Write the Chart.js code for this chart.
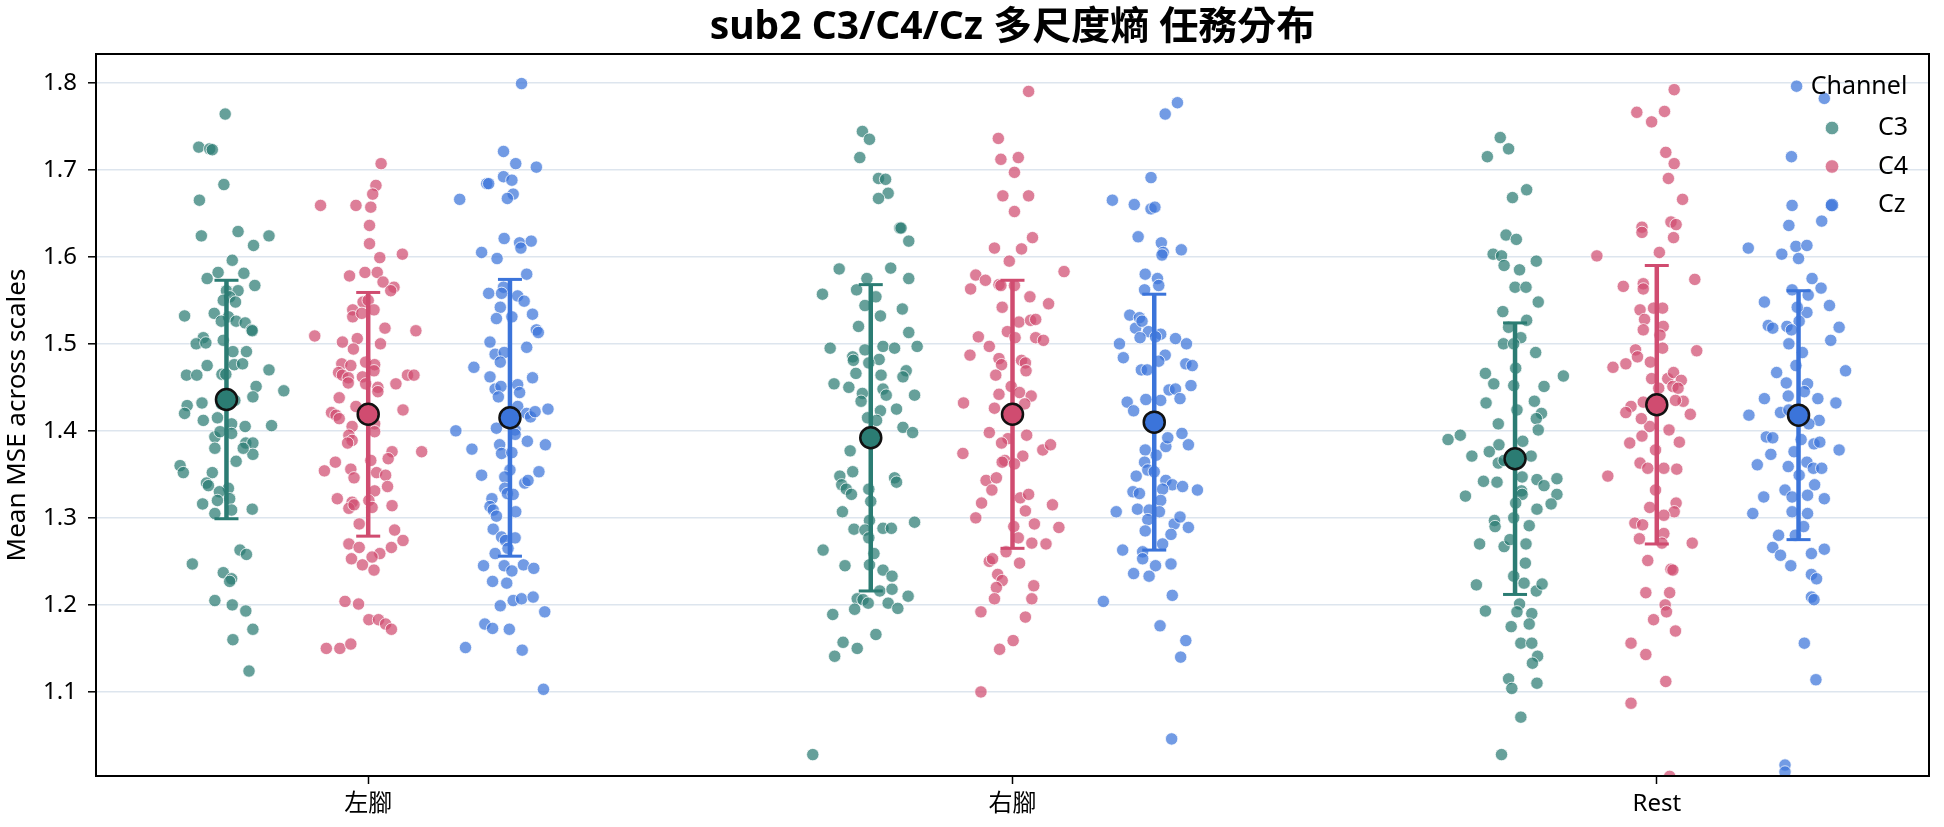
<!DOCTYPE html>
<html>
<head>
<meta charset="utf-8">
<script src="https://cdn.jsdelivr.net/npm/chart.js@4"></script>
<style>
  html, body { margin: 0; padding: 0; background: #fff; }
</style>
</head>
<body>
<canvas id="chart" width="1944" height="827"></canvas>
<script>
const categories = ["左腳", "右腳", "Rest"];
const channels = ["C3", "C4", "Cz"];
const yTicks = [1.1, 1.2, 1.3, 1.4, 1.5, 1.6, 1.7, 1.8];

// per-trial values, with their horizontal jitter (category units)
const left_C3_val = [1.764,1.726,1.724,1.723,1.683,1.665,1.624,1.629,1.624,1.613,1.596,1.582,1.581,1.575,1.567,1.561,1.561,1.554,1.550,1.548,1.532,1.535,1.531,1.526,1.526,1.524,1.516,1.515,1.507,1.500,1.501,1.504,1.491,1.491,1.475,1.476,1.477,1.470,1.464,1.464,1.465,1.465,1.451,1.439,1.446,1.435,1.429,1.432,1.420,1.431,1.412,1.415,1.408,1.405,1.406,1.393,1.397,1.399,1.386,1.386,1.373,1.380,1.380,1.365,1.360,1.352,1.352,1.340,1.337,1.334,1.330,1.316,1.320,1.322,1.309,1.305,1.310,1.263,1.258,1.247,1.237,1.230,1.227,1.205,1.200,1.193,1.172,1.160,1.124];
const left_C3_jit = [-0.002,-0.043,-0.026,-0.022,-0.004,-0.042,-0.039,0.018,0.066,0.042,0.009,-0.013,0.027,-0.030,0.044,0,0.018,0.005,-0.005,0.014,-0.065,-0.019,0.003,-0.008,0.015,0.029,0.039,0.040,-0.036,-0.047,-0.032,-0.005,0.010,0.031,-0.030,0.012,0.025,0.066,-0.062,-0.046,-0.007,-0.001,0.046,0.041,0.089,0.013,-0.061,-0.038,-0.065,-0.008,-0.036,-0.014,0.008,0.029,0.070,-0.018,0.008,-0.010,0.030,0.041,0.041,0.026,-0.018,0.015,-0.072,-0.067,-0.022,-0.031,-0.028,0.003,-0.011,-0.037,-0.014,0.005,0.008,-0.018,0.040,0.021,0.031,-0.053,-0.005,0.008,0.005,-0.018,0.009,0.030,0.041,0.010,0.035];

const left_C4_val = [1.707,1.682,1.672,1.659,1.659,1.657,1.636,1.615,1.599,1.603,1.578,1.582,1.582,1.571,1.565,1.561,1.548,1.550,1.539,1.539,1.531,1.535,1.518,1.515,1.509,1.502,1.506,1.500,1.494,1.477,1.475,1.479,1.476,1.469,1.467,1.464,1.461,1.462,1.464,1.464,1.455,1.454,1.450,1.445,1.454,1.438,1.428,1.424,1.421,1.418,1.414,1.405,1.408,1.399,1.395,1.389,1.386,1.376,1.376,1.368,1.366,1.364,1.354,1.356,1.346,1.352,1.349,1.336,1.331,1.322,1.318,1.311,1.315,1.320,1.312,1.314,1.293,1.286,1.274,1.270,1.266,1.266,1.253,1.246,1.240,1.259,1.255,1.204,1.201,1.183,1.183,1.178,1.172,1.150,1.150,1.155];
const left_C4_jit = [0.020,0.012,0.007,-0.074,-0.019,0.004,0.002,0.002,0.018,0.053,-0.029,-0.005,0.014,0.023,0.040,0.035,-0.008,0,-0.024,0.009,-0.024,-0.010,0.026,0.074,-0.083,-0.040,-0.017,0.019,-0.023,-0.041,-0.027,-0.004,0.010,0.009,-0.046,-0.040,-0.031,-0.009,0.061,0.071,-0.031,-0.004,0.015,0.015,0.043,-0.045,-0.019,0.054,-0.057,-0.050,-0.045,-0.025,0.010,0.010,-0.030,-0.025,-0.032,0.037,0.083,0.031,0.004,-0.051,-0.068,-0.027,-0.022,0.013,0.027,0.030,0.010,-0.048,-0.025,-0.030,-0.022,0.001,0.006,0.037,-0.014,0.041,0.054,-0.030,-0.014,0.036,-0.026,-0.009,0.009,0.018,0.006,-0.036,-0.015,0.001,0.016,0.027,0.036,-0.065,-0.044,-0.027];

const left_Cz_val = [1.799,1.721,1.707,1.703,1.692,1.688,1.684,1.684,1.666,1.672,1.667,1.621,1.616,1.618,1.610,1.605,1.598,1.580,1.565,1.558,1.558,1.555,1.549,1.542,1.529,1.531,1.534,1.516,1.513,1.502,1.496,1.488,1.490,1.479,1.473,1.462,1.461,1.453,1.448,1.451,1.439,1.444,1.428,1.420,1.416,1.422,1.425,1.400,1.403,1.401,1.396,1.379,1.384,1.374,1.375,1.388,1.384,1.349,1.355,1.347,1.340,1.343,1.353,1.334,1.328,1.327,1.322,1.313,1.309,1.302,1.307,1.287,1.278,1.274,1.277,1.265,1.259,1.245,1.245,1.239,1.246,1.242,1.227,1.225,1.199,1.205,1.207,1.209,1.192,1.178,1.173,1.172,1.151,1.148,1.103];
const left_Cz_jit = [0.018,-0.010,0.009,0.041,-0.010,0.003,-0.036,-0.033,-0.078,0.005,-0.004,-0.009,0.015,0.033,0.017,-0.044,-0.020,0.026,-0.010,-0.033,-0.013,0.012,0.022,-0.015,-0.021,0.003,0.035,0.041,0.044,-0.031,0.026,-0.023,-0.009,-0.015,-0.056,-0.031,0.035,0.012,-0.023,-0.014,-0.018,0.015,0.012,0.026,0.032,0.039,0.059,-0.084,-0.021,0.008,0.008,-0.059,-0.016,-0.013,0.003,0.027,0.055,-0.044,0,-0.008,0.023,0.028,0.045,-0.008,-0.004,0.005,-0.028,-0.031,-0.026,-0.021,0.009,-0.026,-0.013,-0.007,0.008,-0.003,-0.023,-0.041,-0.009,0.003,0.021,0.037,-0.027,-0.005,-0.015,0.005,0.018,0.036,0.054,-0.039,-0.027,-0.001,-0.069,0.019,0.052];

const right_C3_val = [1.744,1.735,1.714,1.690,1.689,1.673,1.667,1.633,1.633,1.618,1.586,1.587,1.575,1.575,1.557,1.562,1.554,1.544,1.532,1.540,1.520,1.513,1.495,1.493,1.497,1.495,1.497,1.485,1.481,1.482,1.478,1.466,1.464,1.469,1.462,1.454,1.450,1.448,1.441,1.441,1.443,1.434,1.425,1.423,1.415,1.412,1.404,1.398,1.377,1.348,1.353,1.338,1.333,1.327,1.333,1.346,1.341,1.319,1.307,1.297,1.287,1.286,1.277,1.288,1.288,1.295,1.263,1.259,1.245,1.246,1.240,1.233,1.207,1.206,1.202,1.216,1.218,1.210,1.202,1.196,1.195,1.189,1.166,1.157,1.150,1.141,1.028];
const right_C3_jit = [-0.013,-0.002,-0.017,0.012,0.023,0.027,0.012,0.045,0.047,0.059,-0.049,0.031,-0.006,0.059,-0.075,-0.022,0.008,-0.009,0.015,0.049,-0.019,0.059,-0.063,-0.009,0.019,0.037,0.072,-0.028,-0.027,0.013,-0.003,-0.023,0.016,0.055,0.050,-0.057,-0.034,0.019,0.024,0.068,-0.013,-0.015,0.040,0.015,-0.005,0.009,0.050,0.065,-0.032,-0.048,-0.028,-0.045,-0.038,-0.030,-0.003,0.037,0.040,0,-0.044,-0.002,-0.026,-0.009,-0.003,0.019,0.032,0.068,-0.074,0.005,-0.040,-0.002,0.019,0.033,-0.021,-0.012,-0.004,0.014,0.033,0.058,0.027,0.042,-0.025,-0.059,0.008,-0.043,-0.021,-0.056,-0.090];

const right_C4_val = [1.790,1.736,1.712,1.714,1.697,1.670,1.670,1.652,1.622,1.610,1.609,1.595,1.583,1.579,1.573,1.563,1.568,1.567,1.567,1.554,1.542,1.546,1.525,1.527,1.528,1.514,1.507,1.508,1.497,1.507,1.504,1.487,1.483,1.476,1.481,1.478,1.469,1.464,1.451,1.442,1.444,1.440,1.432,1.426,1.431,1.398,1.395,1.391,1.386,1.374,1.371,1.378,1.384,1.366,1.364,1.362,1.343,1.346,1.332,1.317,1.323,1.327,1.308,1.315,1.300,1.290,1.293,1.289,1.277,1.271,1.270,1.261,1.250,1.253,1.248,1.235,1.228,1.220,1.222,1.207,1.207,1.192,1.186,1.159,1.149,1.100];
const right_C4_jit = [0.025,-0.022,-0.018,0.009,0.003,-0.015,0.025,0.003,0.031,-0.028,0.014,-0.005,0.080,-0.057,-0.042,-0.065,-0.021,-0.018,0.003,0.027,-0.016,0.056,0.010,0.028,0.036,-0.008,0.004,-0.053,-0.036,0.036,0.048,-0.066,-0.021,-0.017,0.014,0.020,0.021,-0.026,-0.002,-0.021,0.011,0.029,-0.076,-0.028,0.019,-0.036,0.022,-0.007,-0.017,-0.077,0.016,0.047,0.059,-0.012,-0.016,0.003,-0.041,-0.025,-0.032,-0.048,0.012,0.025,0.020,0.062,-0.057,0.002,0.034,0.072,0.009,0.030,0.052,-0.010,-0.036,-0.031,0.011,-0.023,-0.016,-0.025,0.033,-0.028,0.030,-0.049,0.020,0.001,-0.020,-0.049];

const right_Cz_val = [1.777,1.764,1.691,1.665,1.660,1.655,1.657,1.623,1.616,1.608,1.605,1.602,1.580,1.575,1.567,1.562,1.533,1.518,1.530,1.526,1.514,1.511,1.500,1.506,1.500,1.507,1.508,1.484,1.487,1.480,1.477,1.475,1.470,1.470,1.452,1.447,1.448,1.433,1.423,1.436,1.435,1.437,1.397,1.384,1.382,1.392,1.378,1.372,1.364,1.355,1.348,1.353,1.343,1.338,1.336,1.332,1.330,1.328,1.333,1.320,1.307,1.310,1.309,1.307,1.298,1.293,1.301,1.289,1.285,1.281,1.263,1.261,1.270,1.253,1.245,1.247,1.236,1.233,1.211,1.204,1.176,1.159,1.140,1.046];
const right_Cz_jit = [0.036,0.017,-0.005,-0.065,-0.031,-0.005,0.001,-0.025,0.011,0.042,0.014,0.012,-0.014,0.005,0.007,-0.015,-0.038,-0.029,-0.023,-0.019,-0.009,0.010,-0.054,0.033,0.050,-0.022,0.002,-0.048,0.017,0.007,0.049,0.059,-0.020,-0.011,0.057,0.023,0.033,-0.042,-0.032,-0.013,0.010,0.040,0.043,0.053,0.018,0.021,-0.014,0.003,-0.015,-0.010,-0.028,0,0.018,0.028,0.044,0.067,-0.033,-0.023,0.013,0.010,-0.059,-0.026,-0.008,0.008,-0.010,0.031,0.040,0.053,-0.014,0.026,-0.049,-0.018,0.013,-0.018,0.002,0.026,-0.032,-0.008,0.028,-0.079,0.009,0.049,0.041,0.027];

const rest_C3_val = [1.737,1.724,1.715,1.677,1.668,1.625,1.620,1.603,1.601,1.590,1.595,1.585,1.565,1.565,1.548,1.537,1.527,1.519,1.507,1.500,1.500,1.490,1.472,1.466,1.454,1.452,1.451,1.463,1.432,1.424,1.434,1.420,1.414,1.408,1.401,1.390,1.395,1.388,1.384,1.376,1.371,1.371,1.363,1.366,1.342,1.341,1.347,1.344,1.337,1.345,1.325,1.331,1.327,1.327,1.316,1.310,1.317,1.297,1.290,1.300,1.291,1.270,1.267,1.275,1.270,1.248,1.233,1.223,1.225,1.216,1.224,1.201,1.193,1.192,1.190,1.175,1.178,1.156,1.156,1.141,1.133,1.115,1.104,1.110,1.071,1.028];
const rest_C3_jit = [-0.023,-0.010,-0.043,0.018,-0.004,-0.014,0.002,-0.034,-0.021,-0.017,0.033,0.007,0,0.017,0.036,-0.019,0.018,-0.010,0.009,-0.018,-0.002,0.032,0.001,-0.046,-0.033,-0.002,0.045,0.075,-0.045,0.003,0.030,0.041,0.033,-0.026,0.036,-0.104,-0.085,0.012,-0.025,-0.040,-0.067,0.025,-0.026,-0.017,-0.049,-0.028,0.011,0.034,0.045,0.065,-0.077,0.010,0.011,0.065,0.056,0.034,0.001,-0.032,-0.031,-0.002,0.022,-0.055,-0.017,-0.008,0.017,0.016,-0.002,-0.060,0.014,0.033,0.042,0.007,-0.046,0.003,0.026,-0.006,0.022,0.009,0.026,0.035,0.027,-0.010,-0.005,0.034,0.009,-0.021];

const rest_C4_val = [1.792,1.766,1.767,1.755,1.720,1.707,1.690,1.666,1.640,1.637,1.634,1.628,1.622,1.601,1.605,1.574,1.566,1.569,1.563,1.539,1.541,1.541,1.528,1.520,1.516,1.510,1.493,1.485,1.495,1.492,1.473,1.477,1.479,1.460,1.460,1.467,1.458,1.451,1.449,1.449,1.434,1.433,1.428,1.421,1.435,1.419,1.405,1.414,1.401,1.386,1.394,1.387,1.363,1.357,1.357,1.356,1.348,1.378,1.332,1.317,1.312,1.307,1.303,1.294,1.292,1.282,1.276,1.271,1.271,1.251,1.241,1.240,1.214,1.214,1.200,1.192,1.183,1.170,1.156,1.143,1.112,1.087,1.003];
const rest_C4_jit = [0.027,-0.031,0.012,-0.008,0.014,0.027,0.018,0.040,0.022,0.030,-0.023,-0.023,0.026,-0.093,0.004,0.059,-0.052,-0.021,-0.021,-0.026,-0.005,0.009,-0.019,0.010,-0.021,0.005,-0.033,-0.030,0.009,0.062,-0.068,-0.048,-0.010,-0.008,0.017,0.026,0.038,0.025,0.003,0.033,0.041,-0.021,-0.040,-0.048,0.029,0.052,-0.011,-0.024,0.019,-0.042,-0.023,0.035,-0.026,-0.014,0.011,0.031,-0.076,-0.002,-0.002,0.030,-0.011,0.027,0.011,-0.034,-0.022,0.011,-0.027,0.008,0.055,-0.014,0.022,0.025,-0.017,0.020,0.013,0.015,-0.005,0.029,-0.040,-0.017,0.014,-0.040,0.020];

const rest_Cz_val = [1.796,1.782,1.715,1.659,1.659,1.636,1.641,1.610,1.603,1.612,1.613,1.598,1.575,1.564,1.562,1.548,1.556,1.544,1.536,1.542,1.521,1.518,1.520,1.526,1.516,1.519,1.504,1.500,1.490,1.475,1.467,1.469,1.455,1.454,1.445,1.437,1.440,1.437,1.432,1.421,1.424,1.418,1.412,1.408,1.393,1.392,1.390,1.385,1.387,1.378,1.373,1.376,1.361,1.359,1.364,1.357,1.357,1.349,1.332,1.338,1.324,1.324,1.326,1.322,1.305,1.307,1.305,1.290,1.280,1.280,1.266,1.257,1.259,1.264,1.245,1.235,1.230,1.209,1.206,1.156,1.114,1.016,1.008];
const rest_Cz_jit = [-0.003,0.040,-0.011,-0.010,0.051,-0.015,0.036,-0.078,-0.026,-0.004,0.013,0,0.021,0.035,-0.010,-0.053,0.015,0.048,0.013,-0.002,-0.047,-0.040,-0.018,0.001,-0.011,0.063,0.050,-0.015,0.006,-0.004,-0.034,0.073,-0.019,0.014,0.009,-0.053,-0.016,0.030,0.058,-0.028,-0.015,-0.077,0.032,0.016,-0.050,-0.040,0.004,0.024,0.033,0.063,-0.043,-0.007,-0.064,-0.016,0.013,0.023,0.036,0.001,-0.021,0.025,-0.054,-0.010,0.014,0.040,-0.071,-0.010,0.014,0.008,-0.031,-0.005,-0.040,-0.028,0.020,0.040,-0.012,0.020,0.028,0.020,0.024,0.009,0.027,-0.021,-0.021];

// mean and SD per task (左腳, 右腳, Rest)
const mean_C3 = [1.436, 1.392, 1.368];
const mean_C4 = [1.419, 1.419, 1.430];
const mean_Cz = [1.415, 1.410, 1.418];
const sd_C3 = [0.137, 0.176, 0.156];
const sd_C4 = [0.140, 0.154, 0.160];
const sd_Cz = [0.159, 0.147, 0.143];

const FONT = "'Noto Sans', 'Noto Sans CJK TC', sans-serif";
const line_colours = ["#2b7c73", "#d04c70", "#3b74da"];
const dot_colours = ["rgba(43,124,115,0.72)", "rgba(208,76,112,0.72)", "rgba(59,116,218,0.72)"];
const dot_edge = "rgba(255,255,255,0.85)";
const dodge = [-0.22, 0, 0.22];

const points = [
    [[left_C3_val, left_C3_jit], [right_C3_val, right_C3_jit], [rest_C3_val, rest_C3_jit]],
    [[left_C4_val, left_C4_jit], [right_C4_val, right_C4_jit], [rest_C4_val, rest_C4_jit]],
    [[left_Cz_val, left_Cz_jit], [right_Cz_val, right_Cz_jit], [rest_Cz_val, rest_Cz_jit]]
];
const means = [mean_C3, mean_C4, mean_Cz];
const sds = [sd_C3, sd_C4, sd_Cz];

let datasets = [];
for (let ci = 0; ci < channels.length; ci ++) {
    // mean markers (drawn on top)
    datasets.push({
        type: "scatter",
        label: channels[ci] + " mean",
        data: categories.map((c, k) => ({ x: k + dodge[ci], y: means[ci][k] })),
        backgroundColor: line_colours[ci],
        borderColor: "#111",
        borderWidth: 2.5,
        pointRadius: 10.5,
        order: 0
    });
    // SD error bars with caps
    for (let k = 0; k < categories.length; k ++) {
        const m = means[ci][k], s = sds[ci][k];
        datasets.push({
            type: "line",
            label: channels[ci] + " sd",
            data: [{ x: k + dodge[ci], y: m - s }, { x: k + dodge[ci], y: m + s }],
            borderColor: line_colours[ci],
            borderWidth: 4.5,
            fill: false,
            pointStyle: "line",
            pointRadius: 12,
            pointBorderWidth: 3,
            pointBorderColor: line_colours[ci],
            order: 1
        });
    }
    // jittered trials
    let pts = [];
    for (let k = 0; k < categories.length; k ++) {
        const [vals, jit] = points[ci][k];
        for (let i = 0; i < vals.length; i ++) {
            pts.push({ x: k + dodge[ci] + jit[i], y: vals[i] });
        }
    }
    datasets.push({
        type: "scatter",
        label: channels[ci],
        data: pts,
        backgroundColor: dot_colours[ci],
        borderColor: dot_edge,
        borderWidth: 0.9,
        pointRadius: 6.2,
        clip: 0,
        order: 2
    });
}

// black frame round the axes and the "Channel" legend
const frameAndLegend = {
    id: "frameAndLegend",
    afterDraw(chart) {
        const { ctx, chartArea: a } = chart;
        ctx.save();
        ctx.strokeStyle = "#000";
        ctx.lineWidth = 2;
        ctx.strokeRect(a.left, a.top, a.right - a.left, a.bottom - a.top);

        ctx.font = "25px " + FONT;
        ctx.fillStyle = "#000";
        ctx.textBaseline = "middle";
        ctx.textAlign = "center";
        ctx.fillText("Channel", a.right - 70, a.top + 33);
        ctx.textAlign = "left";
        for (let i = 0; i < channels.length; i ++) {
            const y = a.top + 74 + i * 38.5;
            ctx.beginPath();
            ctx.arc(a.right - 97, y, 6.8, 0, Math.PI * 2);
            ctx.fillStyle = dot_colours[i];
            ctx.fill();
            ctx.strokeStyle = dot_edge;
            ctx.lineWidth = 0.9;
            ctx.stroke();
            ctx.fillStyle = "#000";
            ctx.fillText(channels[i], a.right - 51, y);
        }
        ctx.restore();
    }
};

const config = {
    type: "scatter",
    data: { datasets: datasets },
    options: {
        responsive: false,
        animation: false,
        devicePixelRatio: 1,
        events: [],
        layout: { padding: { left: 0, right: 8, top: 0, bottom: 0 } },
        plugins: {
            legend: { display: false },
            tooltip: { enabled: false },
            title: {
                display: true,
                text: "sub2 C3/C4/Cz 多尺度熵 任務分布",
                color: "#000",
                font: { family: FONT, size: 39, weight: "bold" },
                padding: { top: 4, bottom: 3.2 },
                fullSize: false
            }
        },
        scales: {
            x: {
                type: "linear",
                min: -0.4225,
                max: 2.4225,
                afterBuildTicks: (s) => { s.ticks = categories.map((c, i) => ({ value: i })); },
                afterFit: (s) => { s.height = 51; },
                ticks: {
                    callback: (v) => categories[v],
                    color: "#000",
                    font: { family: FONT, size: 24 },
                    padding: 6,
                    maxRotation: 0,
                    autoSkip: false
                },
                grid: {
                    display: true,
                    drawOnChartArea: false,
                    drawTicks: true,
                    tickLength: 8,
                    tickWidth: 1.5,
                    tickColor: "#000"
                },
                border: { display: false }
            },
            y: {
                type: "linear",
                min: 1.0034,
                max: 1.833,
                afterBuildTicks: (s) => { s.ticks = yTicks.map(v => ({ value: v })); },
                afterFit: (s) => { s.width = 96; },
                ticks: {
                    callback: (v) => v.toFixed(1),
                    color: "#000",
                    font: { family: FONT, size: 24 },
                    padding: 11
                },
                grid: {
                    color: "#dde5ee",
                    lineWidth: 1.6,
                    tickLength: 8,
                    tickWidth: 1.5,
                    tickColor: "#000"
                },
                border: { display: false },
                title: {
                    display: true,
                    text: "Mean MSE across scales",
                    color: "#000",
                    font: { family: FONT, size: 26 },
                    padding: { top: 2, bottom: 0 }
                }
            }
        }
    },
    plugins: [frameAndLegend]
};

new Chart(document.getElementById("chart").getContext("2d"), config);
</script>
</body>
</html>
